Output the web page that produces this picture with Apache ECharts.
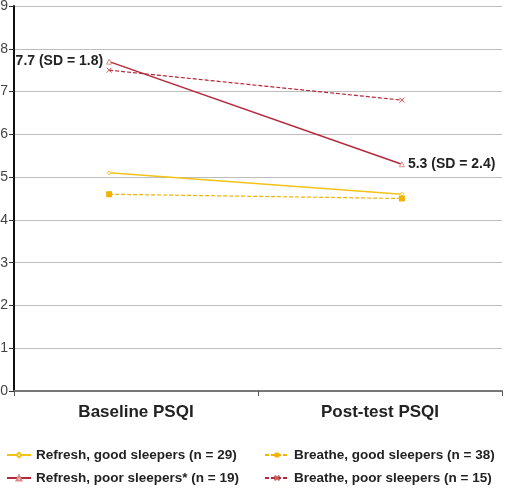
<!DOCTYPE html>
<html><head><meta charset="utf-8">
<script src="https://cdn.jsdelivr.net/npm/echarts@6/dist/echarts.min.js"></script>
<style>html,body{margin:0;padding:0;background:#fff}#c{width:513px;height:492px}</style>
</head><body><div id="c"></div>
<script>
const categories = ['Baseline PSQI', 'Post-test PSQI'];
const yTicks = [0,1,2,3,4,5,6,7,8,9];
const refreshGood = [5.1, 4.6];
const breatheGood = [4.6, 4.5];
const refreshPoor = [7.7, 5.3];
const breathePoor = [7.5, 6.8];
const refreshPoorSD = [1.8, 2.4];
const names = ['Refresh, good sleepers (n = 29)', 'Breathe, good sleepers (n = 38)', 'Refresh, poor sleepers* (n = 19)', 'Breathe, poor sleepers (n = 15)'];

const FONT = "'Liberation Sans Narrow', 'Liberation Sans', Arial, sans-serif";
const toXY = arr => arr.map((v, i) => [i, v]);

const chart = echarts.init(document.getElementById('c'), null, {renderer: 'canvas'});
const legendBase = {
  itemWidth: 24, itemHeight: 6, itemGap: 3, padding: 0,
  textStyle: {fontFamily: FONT, fontWeight: 'bold', fontSize: 13.5, color: '#222'}
};
const annPos = ['left', 'right'];
chart.setOption({
  animation: false,
  grid: {left: 14, right: 11, top: 6, bottom: 101, containLabel: false, outerBoundsMode: 'none'},
  xAxis: [{
    type: 'category', data: categories, boundaryGap: true,
    axisLine: {lineStyle: {color: '#777', width: 2}},
    axisTick: {show: true, length: 5, lineStyle: {color: '#555'}},
    axisLabel: {fontFamily: FONT, fontWeight: 'bold', fontSize: 17, color: '#222', margin: 13},
    splitLine: {show: false}
  }, {
    type: 'value', min: -0.325, max: 1.342, show: false, position: 'bottom',
    splitLine: {show: false}
  }],
  yAxis: {
    type: 'value', min: yTicks[0], max: yTicks[yTicks.length - 1], interval: 1,
    axisLine: {show: true, onZero: false, lineStyle: {color: '#111', width: 2}},
    axisTick: {show: true, length: 5, lineStyle: {color: '#333'}},
    axisLabel: {fontFamily: FONT, fontSize: 14, color: '#444', margin: 6},
    splitLine: {lineStyle: {color: '#bdbdbd', width: 1}}
  },
  legend: [
    Object.assign({}, legendBase, {data: [names[0]], left: 6, top: 448}),
    Object.assign({}, legendBase, {data: [names[1]], left: 264, top: 448}),
    Object.assign({}, legendBase, {data: [names[2]], left: 6, top: 471}),
    Object.assign({}, legendBase, {data: [names[3]], left: 264, top: 471})
  ],
  series: [{
    name: names[0], type: 'line', xAxisIndex: 1, data: toXY(refreshGood),
    symbol: 'diamond', symbolSize: 4,
    lineStyle: {color: '#f2c318', width: 1.5},
    itemStyle: {color: '#fff', borderColor: '#f2c318', borderWidth: 1}
  }, {
    name: names[1], type: 'line', xAxisIndex: 1, data: toXY(breatheGood),
    symbol: 'rect', symbolSize: 6,
    lineStyle: {color: '#f0b400', width: 1.2, type: [4, 2]},
    itemStyle: {color: '#f0b400'}
  }, {
    name: names[2], type: 'line', xAxisIndex: 1,
    data: toXY(refreshPoor).map((d, i) => ({value: d, label: {position: annPos[i], distance: 3}})),
    symbol: 'triangle', symbolSize: 5,
    lineStyle: {color: '#b5283a', width: 1.5},
    itemStyle: {color: '#fff', borderColor: '#d88', borderWidth: 1},
    label: {
      show: true, fontFamily: FONT, fontWeight: 'bold', fontSize: 14, color: '#222',
      formatter: p => p.value[1].toFixed(1) + ' (SD = ' + refreshPoorSD[p.dataIndex].toFixed(1) + ')'
    }
  }, {
    name: names[3], type: 'line', xAxisIndex: 1, data: toXY(breathePoor),
    symbol: 'path://M0,0L10,10M10,0L0,10', symbolSize: 5,
    lineStyle: {color: '#b5283a', width: 1.2, type: [4, 2]},
    itemStyle: {color: '#fff', borderColor: '#c55', borderWidth: 1}
  }]
});
</script></body></html>
